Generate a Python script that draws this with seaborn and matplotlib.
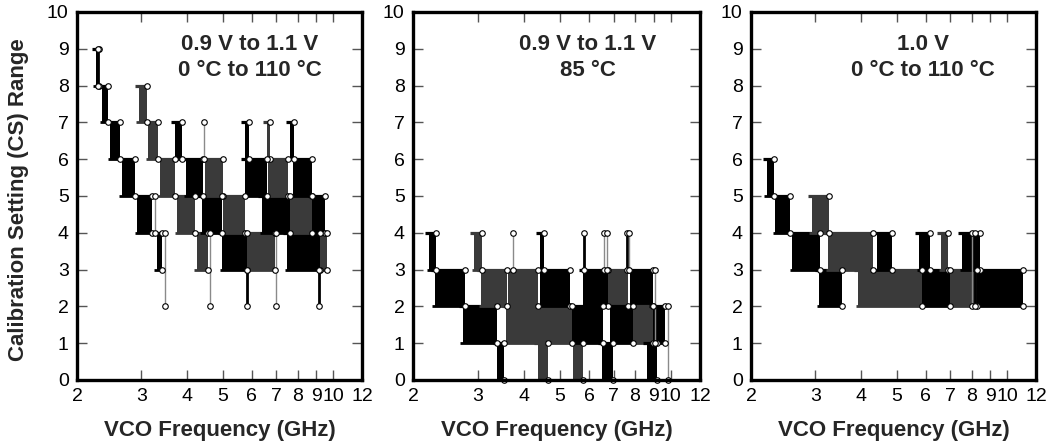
import numpy as np
import pandas as pd
import matplotlib
matplotlib.use("Agg")
import matplotlib.pyplot as plt
import matplotlib.ticker as mticker
import seaborn as sns

# === Data: bands of calibration setting vs VCO frequency (GHz) ===
# each band spans cs .. cs+1 between f_lo and f_hi; shade k = black, g = dark gray
p1_lo = [2.25, 2.34, 2.46, 2.65, 2.92, 3.30,
         2.95, 3.13, 3.37, 3.75, 4.25,
         3.71, 3.97, 4.40, 4.98,
         4.46, 5.01, 5.82,
         5.76, 5.75, 6.40, 7.49,
         6.60, 6.65, 7.63, 9.22,
         7.63, 7.78, 8.76]
p1_hi = [2.30, 2.43, 2.62, 2.88, 3.20, 3.42,
         3.11, 3.33, 3.70, 4.20, 4.55,
         3.88, 4.42, 4.98, 5.82,
         5.01, 5.75, 6.94,
         5.90, 6.60, 7.63, 9.22,
         6.72, 7.53, 8.76, 9.63,
         7.85, 8.76, 9.51]
p1_cs = [8, 7, 6, 5, 4, 3,
         7, 6, 5, 4, 3,
         6, 5, 4, 3,
         5, 4, 3,
         6, 5, 4, 3,
         6, 5, 4, 3,
         6, 5, 4]
p1_shade = list("kkkkkk") + list("ggggg") + list("kkkk") + list("ggg") + \
    list("kkkk") + list("gggg") + list("kkk")
p1_stem_x = [2.28, 3.27, 3.48, 4.61, 5.82, 6.98, 9.16, 4.44]
p1_stem_lo = [8, 4, 2, 2, 2, 2, 2, 6]
p1_stem_hi = [9, 5, 4, 4, 3, 4, 3, 7]
p1_stem_shade = ["k", "g", "g", "g", "k", "g", "k", "g"]

p2_lo = [2.21, 2.29, 2.73, 3.38,
         2.93, 3.06, 3.58, 3.62, 4.36, 5.42,
         4.42, 4.42, 5.40, 5.78, 6.76, 7.75, 6.52, 6.84, 7.90, 8.95, 8.62]
p2_hi = [2.31, 2.77, 3.38, 3.53,
         3.08, 3.60, 5.40, 4.36, 4.65, 5.78,
         4.53, 5.33, 6.55, 6.76, 7.65, 8.95, 6.97, 7.90, 8.95, 9.64, 9.17]
p2_cs = [3, 2, 1, 0,
         3, 2, 1, 2, 0, 0,
         3, 2, 1, 2, 2, 2, 0, 1, 1, 1, 0]
p2_shade = list("kkkk") + list("gggggg") + list("kkkkgkkkgkk")
p2_stem_x = [3.73, 5.83, 6.60, 6.70, 7.60, 7.70, 9.08, 9.80]
p2_stem_lo = [3, 3, 3, 3, 3, 3, 1, 0]
p2_stem_hi = [4, 4, 4, 4, 4, 4, 3, 2]
p2_stem_shade = ["g", "k", "g", "g", "k", "g", "g", "g"]

p3_lo = [2.21, 2.33, 2.59, 3.07,
         2.93, 3.25, 3.92,
         4.42, 5.75, 5.86,
         6.60, 6.99,
         7.54, 8.28]
p3_hi = [2.31, 2.56, 3.09, 3.54,
         3.27, 4.31, 5.86,
         4.85, 6.16, 6.99,
         6.90, 8.28,
         8.44, 11.06]
p3_cs = [5, 4, 3, 2,
         4, 3, 2,
         3, 3, 2,
         3, 2,
         3, 2]
p3_shade = list("kkkk") + list("ggg") + list("kkk") + list("gg") + list("kk")
p3_stem_x = [8.05, 8.20]
p3_stem_lo = [2, 2]
p3_stem_hi = [4, 4]
p3_stem_shade = ["g", "k"]

notes = ["0.9 V to 1.1 V\n0 \u00b0C to 110 \u00b0C",
         "0.9 V to 1.1 V\n85 \u00b0C",
         "1.0 V\n0 \u00b0C to 110 \u00b0C"]
note_x = [0.607, 0.61, 0.604]

x_ticks = [2, 3, 4, 5, 6, 7, 8, 9, 10, 12]
y_ticks = list(range(0, 11))

# === Style ===
sns.set_theme(style="white")
plt.rcParams["font.family"] = ["Liberation Sans", "DejaVu Sans"]

colors = {"k": "#000000", "g": "#3a3a3a"}
stem_colors = {"k": "#000000", "g": "#8a8a8a"}
stem_widths = {"k": 2.0, "g": 1.0}

fig = plt.figure(figsize=(10.5, 4.47), dpi=100)
positions = [[77 / 1050, 67 / 447, 285 / 1050, 368 / 447],
             [413 / 1050, 67 / 447, 287 / 1050, 368 / 447],
             [751 / 1050, 67 / 447, 285 / 1050, 368 / 447]]

panels = [(p1_lo, p1_hi, p1_cs, p1_shade, p1_stem_x, p1_stem_lo, p1_stem_hi, p1_stem_shade),
          (p2_lo, p2_hi, p2_cs, p2_shade, p2_stem_x, p2_stem_lo, p2_stem_hi, p2_stem_shade),
          (p3_lo, p3_hi, p3_cs, p3_shade, p3_stem_x, p3_stem_lo, p3_stem_hi, p3_stem_shade)]

for i, (lo, hi, cs, shade, sx, slo, shi, sshade) in enumerate(panels):
    ax = fig.add_axes(positions[i])
    ax.set_xscale("log")

    bands = pd.DataFrame({"lo": lo, "hi": hi, "cs": cs, "shade": shade})
    for _, b in bands.iterrows():
        ax.fill_between([b.lo, b.hi], b.cs, b.cs + 1, color=colors[b.shade], lw=0, zorder=2)
        # staircase treads
        ax.hlines(b.cs + 1, b.lo * 0.975, b.hi, color=colors[b.shade], lw=2.3, zorder=2)
        ax.hlines(b.cs, b.lo * 0.985, b.hi, color=colors[b.shade], lw=2.0, zorder=2)

    stems = pd.DataFrame({"x": sx, "lo": slo, "hi": shi, "shade": sshade})
    for _, s in stems.iterrows():
        ax.vlines(s.x, s.lo, s.hi, color=stem_colors[s.shade], lw=stem_widths[s.shade], zorder=3)

    # open circles at band corners and stem ends
    mx = list(bands.hi) + list(bands.hi) + list(stems.x) + list(stems.x)
    my = list(bands.cs) + list(bands.cs + 1) + list(stems.lo) + list(stems.hi)
    sns.scatterplot(x=mx, y=my, ax=ax, s=16, color="white", edgecolor="black",
                    linewidth=0.8, zorder=4, legend=False, clip_on=False)

    ax.set_xlim(2, 12)
    ax.set_ylim(0, 10)
    ax.xaxis.set_major_locator(mticker.FixedLocator(x_ticks))
    ax.xaxis.set_major_formatter(mticker.FixedFormatter([str(t) for t in x_ticks]))
    ax.xaxis.set_minor_locator(mticker.NullLocator())
    ax.set_yticks(y_ticks)
    ax.tick_params(axis="both", which="major", direction="in", length=7, width=1,
                   color="#555555", labelsize=14, labelcolor="black",
                   top=True, right=True, bottom=True, left=True, pad=6)
    for sp in ax.spines.values():
        sp.set_visible(True)
        sp.set_color("black")
        sp.set_linewidth(2.4)
        sp.set_zorder(5)

    ax.set_xlabel("VCO Frequency (GHz)", fontsize=16, fontweight="bold")
    ax.xaxis.set_label_coords(0.5, -0.11)
    ax.xaxis.label.set_va("top")
    if i == 0:
        ax.set_ylabel("Calibration Setting (CS) Range", fontsize=16, fontweight="bold")
        ax.yaxis.set_label_coords(-0.17, 0.49)

    ax.text(note_x[i], 0.876, notes[i], transform=ax.transAxes, ha="center", va="center",
            fontsize=16, fontweight="bold", linespacing=1.3, zorder=6)

fig.savefig("out.png", dpi=100)
